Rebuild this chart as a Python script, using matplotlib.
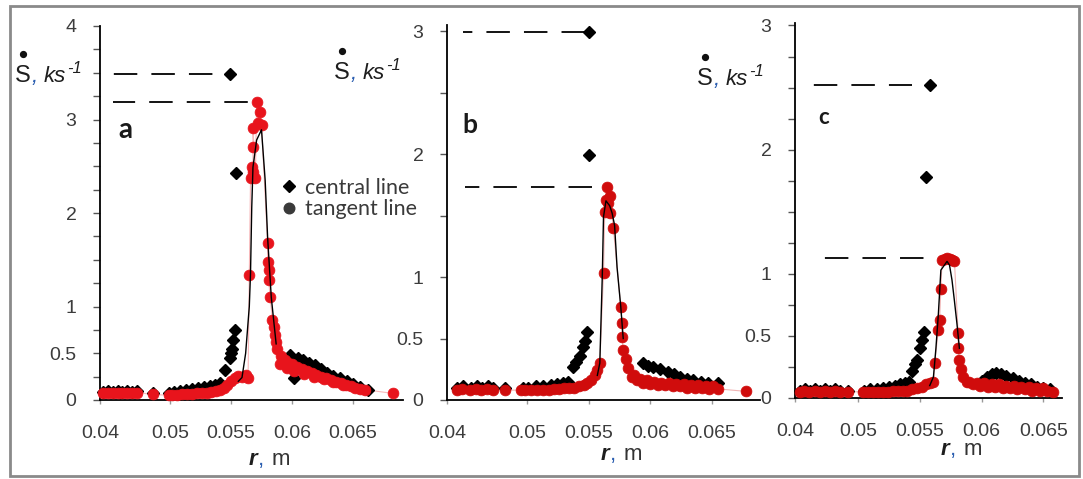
import numpy as np
import matplotlib
matplotlib.use("Agg")
import matplotlib.pyplot as plt
from matplotlib.lines import Line2D
from matplotlib.patches import Rectangle
from matplotlib.ticker import NullLocator

W, H = 1083, 479
DPI = 100

# ---------------- data: strain rate S-dot (1/ks) versus radius r (m) ----------------
# panel a
A_TAN_R = [0.0404, 0.0411, 0.0418, 0.0425, 0.0432, 0.0439, 0.0446, 0.0453, 0.0475,
           0.0498, 0.0502, 0.0506, 0.0510, 0.0514, 0.0518, 0.0522, 0.0526, 0.0530, 0.0534, 0.0538,
           0.0541, 0.0544, 0.0547, 0.0550, 0.0553, 0.0556, 0.0559, 0.0562, 0.0564,
           0.0565, 0.0566, 0.0567, 0.0568, 0.0568, 0.0568, 0.0570, 0.0571, 0.0572, 0.0574, 0.0575,
           0.0580, 0.0580, 0.0581, 0.0581, 0.0582, 0.0584, 0.0585, 0.0586, 0.0587, 0.0588,
           0.0591, 0.0594, 0.0597, 0.0600, 0.0604, 0.0608, 0.0612, 0.0616, 0.0620, 0.0624,
           0.0628, 0.0632, 0.0636, 0.0640, 0.0644, 0.0648, 0.0652, 0.0656, 0.0660, 0.0683,
           0.0590, 0.0596, 0.0602, 0.0610, 0.0618, 0.0626, 0.0634, 0.0642]
A_TAN_S = [0.07, 0.08, 0.07, 0.08, 0.07, 0.08, 0.07, 0.08, 0.06,
           0.05, 0.05, 0.055, 0.06, 0.06, 0.065, 0.07, 0.075, 0.08, 0.09, 0.10,
           0.11, 0.13, 0.16, 0.20, 0.24, 0.26, 0.25, 0.27, 0.24,
           1.34, 2.37, 2.49, 2.44, 2.71, 2.91, 2.37, 3.19, 2.96, 3.08, 2.94,
           1.68, 1.48, 1.39, 1.28, 1.10, 0.86, 0.78, 0.70, 0.62, 0.55,
           0.47, 0.43, 0.40, 0.38, 0.35, 0.33, 0.31, 0.29, 0.27, 0.25,
           0.23, 0.21, 0.19, 0.18, 0.16, 0.15, 0.13, 0.12, 0.11, 0.07,
           0.38, 0.34, 0.31, 0.28, 0.25, 0.22, 0.19, 0.16]
A_CEN_R = [0.0404, 0.0411, 0.0418, 0.0425, 0.0432, 0.0439, 0.0446, 0.0453, 0.0475,
           0.0498, 0.0503, 0.0508, 0.0513, 0.0518, 0.0523, 0.0528, 0.0533, 0.0537, 0.0541,
           0.0545, 0.0549, 0.0550, 0.0551, 0.0552, 0.0553, 0.0554, 0.0549,
           0.0598, 0.0602, 0.0605, 0.0609, 0.0614, 0.0619, 0.0624, 0.0629, 0.0634, 0.0639,
           0.0645, 0.0650, 0.0656, 0.0662]
A_CEN_S = [0.09, 0.10, 0.09, 0.10, 0.09, 0.10, 0.09, 0.10, 0.08,
           0.08, 0.09, 0.10, 0.11, 0.12, 0.13, 0.14, 0.15, 0.16, 0.18,
           0.32, 0.45, 0.50, 0.55, 0.64, 0.75, 2.43, 3.49,
           0.48, 0.23, 0.45, 0.43, 0.40, 0.37, 0.33, 0.29, 0.26, 0.23,
           0.20, 0.17, 0.14, 0.11]
A_FIT_R = [0.0556, 0.0559, 0.0562, 0.0565, 0.0566, 0.0567, 0.0568, 0.0571, 0.0575, 0.0576,
           0.0578, 0.0580, 0.0583, 0.0587]
A_FIT_S = [0.20, 0.24, 0.50, 1.00, 1.36, 2.06, 2.49, 2.78, 2.89, 2.71, 2.35, 1.74, 1.10, 0.60]

# panel b
B_TAN_R = [0.0413, 0.0419, 0.0429, 0.0436, 0.0443, 0.0450, 0.0457, 0.0473,
           0.0492, 0.0498, 0.0503, 0.0508, 0.0513, 0.0518, 0.0522, 0.0526, 0.0530, 0.0534,
           0.0538, 0.0542, 0.0546, 0.0549, 0.0552, 0.0555, 0.0557, 0.0559,
           0.0562, 0.0563, 0.0564, 0.0565, 0.0566, 0.0567, 0.0567, 0.0570,
           0.0576, 0.0577, 0.0577, 0.0578, 0.0580, 0.0582, 0.0585, 0.0589, 0.0594, 0.0600,
           0.0606, 0.0612, 0.0618, 0.0624, 0.0630, 0.0636, 0.0642, 0.0648, 0.0655, 0.0678,
           0.0587, 0.0592, 0.0597, 0.0603, 0.0609, 0.0615, 0.0621, 0.0627, 0.0633, 0.0639,
           0.0645, 0.0651]
B_TAN_S = [0.08, 0.09, 0.08, 0.09, 0.08, 0.09, 0.08, 0.08,
           0.08, 0.08, 0.08, 0.08, 0.08, 0.085, 0.09, 0.09, 0.095, 0.10,
           0.10, 0.11, 0.12, 0.14, 0.16, 0.20, 0.24, 0.30,
           1.03, 1.53, 1.63, 1.73, 1.60, 1.52, 1.66, 1.40,
           0.76, 0.63, 0.51, 0.41, 0.33, 0.26, 0.19, 0.16, 0.14, 0.13,
           0.12, 0.12, 0.11, 0.11, 0.10, 0.10, 0.10, 0.09, 0.09, 0.07,
           0.20, 0.17, 0.16, 0.15, 0.14, 0.14, 0.13, 0.13, 0.12, 0.12,
           0.11, 0.11]
B_CEN_R = [0.0413, 0.0420, 0.0430, 0.0437, 0.0444, 0.0451, 0.0458, 0.0473,
           0.0495, 0.0501, 0.0507, 0.0513, 0.0519, 0.0524, 0.0529, 0.0533,
           0.0537, 0.0540, 0.0543, 0.0545, 0.0547, 0.0549, 0.0550, 0.0550,
           0.0594, 0.0598, 0.0602, 0.0608, 0.0614, 0.0619, 0.0624, 0.0630, 0.0635,
           0.0641, 0.0647, 0.0655]
B_CEN_S = [0.10, 0.11, 0.10, 0.11, 0.10, 0.11, 0.10, 0.10,
           0.10, 0.10, 0.11, 0.11, 0.12, 0.13, 0.14, 0.15,
           0.27, 0.31, 0.36, 0.43, 0.48, 0.55, 1.99, 2.99,
           0.30, 0.28, 0.27, 0.25, 0.23, 0.21, 0.19, 0.17, 0.16,
           0.15, 0.14, 0.14]
B_FIT_R = [0.0557, 0.0559, 0.0561, 0.0562, 0.0564, 0.0567, 0.0569, 0.0571, 0.0573, 0.0576, 0.0578]
B_FIT_S = [0.20, 0.30, 1.00, 1.49, 1.62, 1.58, 1.52, 1.42, 1.08, 0.76, 0.50]

# panel c
C_TAN_R = [0.0408, 0.0415, 0.0423, 0.0431, 0.0439, 0.0447, 0.0455, 0.0463, 0.0471, 0.0484,
           0.0504, 0.0508, 0.0512, 0.0516, 0.0520, 0.0524, 0.0528, 0.0532, 0.0536, 0.0540,
           0.0544, 0.0548, 0.0552, 0.0555, 0.0558, 0.0561,
           0.0562, 0.0565, 0.0566, 0.0567, 0.0568, 0.0570, 0.0572, 0.0574, 0.0576, 0.0578,
           0.0581, 0.0581, 0.0582, 0.0583, 0.0585, 0.0588, 0.0593, 0.0599, 0.0605, 0.0611,
           0.0617, 0.0623, 0.0629, 0.0635, 0.0641, 0.0647, 0.0653, 0.0658,
           0.0590, 0.0596, 0.0602, 0.0608, 0.0614, 0.0620, 0.0626, 0.0632, 0.0638, 0.0644, 0.0650]
C_TAN_S = [0.05, 0.06, 0.05, 0.06, 0.05, 0.06, 0.05, 0.06, 0.05, 0.05,
           0.05, 0.05, 0.05, 0.05, 0.05, 0.05, 0.055, 0.06, 0.06, 0.06,
           0.07, 0.08, 0.09, 0.11, 0.12, 0.13,
           0.28, 0.55, 0.63, 0.88, 1.11, 1.12, 1.13, 1.12, 1.11, 1.10,
           0.52, 0.40, 0.31, 0.23, 0.17, 0.13, 0.11, 0.10, 0.09, 0.09,
           0.08, 0.08, 0.07, 0.07, 0.06, 0.06, 0.06, 0.05,
           0.13, 0.12, 0.12, 0.11, 0.11, 0.10, 0.10, 0.09, 0.09, 0.08, 0.08]
C_CEN_R = [0.0408, 0.0416, 0.0424, 0.0432, 0.0440, 0.0448, 0.0456, 0.0464, 0.0472, 0.0484,
           0.0505, 0.0510, 0.0515, 0.0520, 0.0525, 0.0530, 0.0534, 0.0538, 0.0541,
           0.0544, 0.0546, 0.0548, 0.0550, 0.0552, 0.0553, 0.0555, 0.0558,
           0.0600, 0.0604, 0.0608, 0.0612, 0.0616, 0.0620, 0.0625, 0.0630, 0.0635,
           0.0640, 0.0645, 0.0650, 0.0655]
C_CEN_S = [0.06, 0.07, 0.06, 0.07, 0.06, 0.07, 0.06, 0.07, 0.06, 0.06,
           0.06, 0.07, 0.07, 0.08, 0.09, 0.10, 0.11, 0.12, 0.13,
           0.22, 0.27, 0.31, 0.40, 0.47, 0.53, 1.78, 2.52,
           0.14, 0.17, 0.19, 0.20, 0.19, 0.18, 0.16, 0.14, 0.12,
           0.11, 0.09, 0.08, 0.07]
C_FIT_R = [0.0558, 0.0561, 0.0563, 0.0565, 0.0567, 0.0572, 0.0574, 0.0576, 0.0578, 0.0580, 0.0582]
C_FIT_S = [0.10, 0.17, 0.40, 0.68, 1.03, 1.10, 1.07, 0.95, 0.78, 0.60, 0.40]

X_TICKS = [0.04, 0.05, 0.055, 0.06, 0.065]
X_TICK_LABELS = ["0.04", "0.05", "0.055", "0.06", "0.065"]
Y_LABELLED = [0, 0.5, 1, 2, 3, 4]

PANEL_LETTERS = ["a", "b", "c"]
LEGEND_LABELS = ["central line", "tangent line"]

# ---------------- style ----------------
plt.rcParams["font.family"] = ["Liberation Sans", "DejaVu Sans"]
TICK_COLOR = "#3c3c3c"
LABEL_COLOR = "#1e1e1e"
COMMA_COLOR = "#2a5db0"
BREAK = 0.05
DASH_ON, DASH_OFF, DASH_LW = 13.0, 7.8, 1.3


def compressed_scale(k):
    """r below 0.05 is drawn compressed by factor k."""
    def fwd(x):
        x = np.asarray(x, dtype=float)
        return np.where(x < BREAK, BREAK - (BREAK - x) * k, x)

    def inv(y):
        y = np.asarray(y, dtype=float)
        return np.where(y < BREAK, BREAK - (BREAK - y) / k, y)
    return fwd, inv


def add_axes_px(fig, left, top, right, bottom):
    return fig.add_axes([left / W, 1 - bottom / H, (right - left) / W, (bottom - top) / H])


def fx(px):
    return px / W


def fy(py):
    return 1 - py / H


fig = plt.figure(figsize=(W / DPI, H / DPI), dpi=DPI)
fig.patch.set_facecolor("white")
renderer = fig.canvas.get_renderer()


def put(x, y, s, **kw):
    """Place text with its left baseline at pixel (x, y); return its width in pixels."""
    t = fig.text(fx(x), fy(y), s, va="baseline", ha="left", **kw)
    return t.get_window_extent(renderer=renderer).width


def y_label(x, y):
    w = put(x, y, "S", fontsize=17, color=LABEL_COLOR)
    fig.add_artist(Line2D([fx(x + w / 2)], [fy(y - 28)], marker="o", ms=4.2,
                          color="#111111", ls="none", transform=fig.transFigure))
    x += w + 1
    w = put(x, y, ",", fontsize=16, color=COMMA_COLOR, style="italic")
    x += w + 6
    w = put(x, y, "ks", fontsize=16, color=LABEL_COLOR, style="italic")
    x += w + 1
    put(x, y - 9, "-1", fontsize=12, color=LABEL_COLOR, style="italic")


def x_label(x, y):
    w = put(x, y, "r", fontsize=16, fontweight="bold", style="italic", color=LABEL_COLOR)
    x += w
    w = put(x, y, ",", fontsize=16, color=COMMA_COLOR)
    x += w + 8
    put(x, y, "m", fontsize=16, color="#333333")


def dashed_guide(ax, x0, x1, y):
    """Horizontal dashed line whose pattern ends on a full dash at x1."""
    p0 = ax.transData.transform((x0, y))[0]
    p1 = ax.transData.transform((x1, y))[0]
    length = p1 - p0
    scale = DASH_LW * DPI / 72.0
    on, period = DASH_ON * scale, (DASH_ON + DASH_OFF) * scale
    offset_px = (on - length) % period
    ax.plot([x0, x1], [y, y], color="black", lw=DASH_LW,
            ls=(offset_px / scale, (DASH_ON, DASH_OFF)), zorder=3)


# outer frame
fig.add_artist(Rectangle((fx(10), fy(476)), fx(1079) - fx(10), fy(6) - fy(476),
                         transform=fig.transFigure, fill=False,
                         edgecolor="#8a8a8a", linewidth=2.0))

panels = [
    dict(rect=(100, 26, 403, 400), k=0.574, xmax=0.0691, ymax=4.0, minor=0.25,
         tan=(A_TAN_R, A_TAN_S), cen=(A_CEN_R, A_CEN_S), fit=(A_FIT_R, A_FIT_S),
         red="#e8141c", dash=((0.0419, 0.0535), (0.0419, 0.0564)),
         letter=(118, 138, 20), ylab=(15, 82), xlab=(249, 465)),
    dict(rect=(447, 25, 760, 400), k=0.65, xmax=0.0689, ymax=3.05, minor=0.5,
         tan=(B_TAN_R, B_TAN_S), cen=(B_CEN_R, B_CEN_S), fit=(B_FIT_R, B_FIT_S),
         red="#d00c0c", dash=((0.0420, 0.0547), (0.0423, 0.0553)),
         letter=(462, 133, 19), ylab=(334, 79), xlab=(601, 460)),
    dict(rect=(795, 23, 1062, 398), k=0.51, xmax=0.0665, ymax=3.02, minor=0.25,
         tan=(C_TAN_R, C_TAN_S), cen=(C_CEN_R, C_CEN_S), fit=(C_FIT_R, C_FIT_S),
         red="#d00c0c", dash=((0.0427, 0.0544), (0.0435, 0.0553)),
         letter=(818, 124, 16), ylab=(697, 85), xlab=(941, 455)),
]

for i, p in enumerate(panels):
    ax = add_axes_px(fig, *p["rect"])
    ax.set_xscale("function", functions=compressed_scale(p["k"]))
    ax.set_xlim(0.04, p["xmax"])
    ax.set_ylim(0, p["ymax"])

    for side in ("top", "right"):
        ax.spines[side].set_visible(False)
    for side in ("left", "bottom"):
        ax.spines[side].set_color("black")
        ax.spines[side].set_linewidth(1.3)

    yt = [v for v in Y_LABELLED if v <= p["ymax"] + 1e-9]
    ax.set_yticks(yt)
    ax.set_yticklabels([("%g" % v) for v in yt])
    ax.set_yticks(np.arange(0, p["ymax"] + 1e-9, p["minor"]), minor=True)
    ax.set_xticks(X_TICKS)
    ax.set_xticklabels(X_TICK_LABELS)
    ax.xaxis.set_minor_locator(NullLocator())
    ax.tick_params(axis="y", which="both", direction="out", length=5, width=1,
                   color="#555555", labelsize=14, labelcolor=TICK_COLOR, pad=12)
    ax.tick_params(axis="x", which="both", direction="out", length=3, width=1,
                   color="#999999", labelsize=14, labelcolor=TICK_COLOR, pad=15)

    tr, ts = p["tan"]
    cr, cs = p["cen"]
    fr, fs = p["fit"]

    # faint connecting line of the tangent-line series
    order = np.argsort(tr, kind="stable")
    ax.plot(np.array(tr)[order], np.array(ts)[order], color=p["red"], lw=0.8,
            alpha=0.3, zorder=2, clip_on=False)
    ax.plot(cr, cs, ls="none", marker="D", ms=6.5, color="black", mec="black",
            zorder=3, clip_on=False)
    ax.plot(tr, ts, ls="none", marker="o", ms=7.8, color=p["red"], mec=p["red"],
            mew=0.5, zorder=4, clip_on=False)
    ax.plot(fr, fs, color="black", lw=1.0, zorder=5)

    # dashed guide lines at the two maxima
    (c0, c1), (t0, t1) = p["dash"]
    dashed_guide(ax, c0, c1, max(cs))
    dashed_guide(ax, t0, t1, max(ts))

    # panel letter
    lx, ly, lsz = p["letter"]
    fig.text(fx(lx), fy(ly), PANEL_LETTERS[i], fontsize=lsz, fontweight="bold",
             family=["Lato", "DejaVu Sans"], color="#1a1a1a", va="baseline", ha="left")

    y_label(*p["ylab"])
    x_label(*p["xlab"])

    if i == 0:
        handles = [Line2D([], [], ls="none", marker="D", ms=6.5, color="black"),
                   Line2D([], [], ls="none", marker="o", ms=7.6, color="#3a3a3a")]
        ax.legend(handles, LEGEND_LABELS, loc="upper left",
                  bbox_to_anchor=(fx(279), fy(178)), bbox_transform=fig.transFigure,
                  frameon=False, handlelength=0.9, handletextpad=0.3,
                  labelspacing=0.05, borderpad=0, borderaxespad=0,
                  prop=dict(family="Lato", size=15.5), labelcolor="#3a3a3a")

fig.savefig("out.png", dpi=DPI, facecolor="white")
